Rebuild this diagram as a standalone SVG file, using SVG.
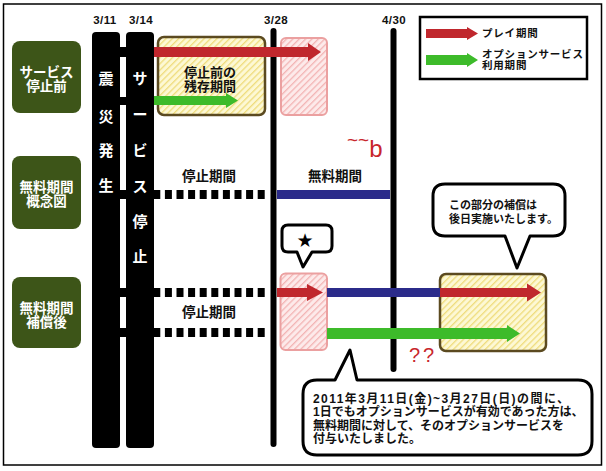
<svg xmlns="http://www.w3.org/2000/svg" width="606" height="471" viewBox="0 0 606 471">
<defs>
<pattern id="hy" patternUnits="userSpaceOnUse" width="4.5" height="4.5" patternTransform="rotate(45)"><rect width="4.5" height="4.5" fill="#fdf8d4"/><rect width="1.3" height="4.5" fill="#efdc7c"/></pattern>
<pattern id="hp" patternUnits="userSpaceOnUse" width="4.5" height="4.5" patternTransform="rotate(45)"><rect width="4.5" height="4.5" fill="#fdeaea"/><rect width="1.3" height="4.5" fill="#f3b4b4"/></pattern>
<style>
.t{font-family:'Liberation Sans','Noto Sans CJK JP',sans-serif;font-weight:bold}
.w{fill:#fff}
.k{fill:#111}
.lbl{fill:#3d5518}
.bar{fill:#000}
.vl{stroke:#000;stroke-width:6;stroke-linecap:round;fill:none}
.dash{stroke:#000;stroke-width:9;stroke-dasharray:7 4.6;fill:none}
.red{fill:#c0272d}
.grn{fill:#3dbb2a}
.blu{fill:#2b2b8a}
.ybox{fill:url(#hy);stroke:#5b4a20;stroke-width:2.5}
.pbox{fill:url(#hp);stroke:#eba0a0;stroke-width:2}
.bub{fill:#fff;stroke:#000;stroke-width:3;stroke-linejoin:round}
.rt{font-family:'Liberation Sans',sans-serif;fill:#c8262c}
</style>
</defs>
<rect x="0" y="0" width="606" height="471" fill="#fff"/>
<rect x="3.5" y="4" width="598" height="461" fill="#fff" stroke="#000" stroke-width="1.5"/>

<g id="dates" class="t k" font-size="11.5" text-anchor="middle" letter-spacing="0.4">
<text x="105" y="24">3/11</text>
<text x="141" y="24">3/14</text>
<text x="276" y="24">3/28</text>
<text x="394" y="24">4/30</text>
</g>

<g id="label-before">
<rect class="lbl" x="12" y="41" width="69" height="72" rx="8"/>
<text class="t w" font-size="13.5" text-anchor="middle"><tspan x="46.5" y="76.5">サービス</tspan><tspan x="46.5" y="90.5">停止前</tspan></text>
</g>
<g id="label-concept">
<rect class="lbl" x="12" y="156" width="69" height="73" rx="8"/>
<text class="t w" font-size="13.5" text-anchor="middle"><tspan x="46.5" y="191.5">無料期間</tspan><tspan x="46.5" y="205.5">概念図</tspan></text>
</g>
<g id="label-after">
<rect class="lbl" x="12" y="277" width="69" height="71" rx="8"/>
<text class="t w" font-size="13.5" text-anchor="middle"><tspan x="46.5" y="312.5">無料期間</tspan><tspan x="46.5" y="326.5">補償後</tspan></text>
</g>

<g id="timeline-lines">
<line class="vl" x1="273.5" y1="31" x2="273.5" y2="444"/>
<line class="vl" x1="393.5" y1="31" x2="393.5" y2="369"/>
</g>

<g id="bar-quake">
<rect class="bar" x="92" y="32" width="28" height="416" rx="4"/>
<text class="t w" font-size="15" text-anchor="middle"><tspan x="106" y="84">震</tspan><tspan x="106" y="122">災</tspan><tspan x="106" y="156">発</tspan><tspan x="106" y="191">生</tspan></text>
</g>
<g id="bar-stop">
<rect class="bar" x="126" y="32" width="28" height="416" rx="4"/>
<text class="t w" font-size="15" text-anchor="middle"><tspan x="140" y="84">サ</tspan><tspan x="140" y="120">ー</tspan><tspan x="140" y="156">ビ</tspan><tspan x="140" y="192">ス</tspan><tspan x="140" y="227">停</tspan><tspan x="140" y="262">止</tspan></text>
</g>

<g id="box-remaining">
<rect class="ybox" x="158" y="37" width="107" height="78" rx="6"/>
<text class="t k" font-size="13" text-anchor="middle"><tspan x="210" y="77">停止前の</tspan><tspan x="210" y="91">残存期間</tspan></text>
</g>
<g id="box-pink-top"><rect class="pbox" x="281" y="38" width="46" height="77" rx="5"/></g>
<g id="box-pink-bottom"><rect class="pbox" x="280.5" y="273.5" width="46.5" height="76.5" rx="5"/></g>
<g id="box-later"><rect class="ybox" x="440" y="274" width="106" height="77" rx="6"/></g>

<g id="connectors">
<rect class="bar" x="119" y="47" width="8" height="10"/>
<rect class="bar" x="119" y="97" width="8" height="8"/>
<rect class="bar" x="119" y="190" width="8" height="9"/>
<rect class="bar" x="119" y="288" width="8" height="9"/>
<rect class="bar" x="119" y="328" width="8" height="9"/>
<line class="dash" x1="153.3" y1="194.5" x2="265" y2="194.5"/>
<line class="dash" x1="153.3" y1="292.5" x2="265" y2="292.5"/>
<line class="dash" x1="153.3" y1="332.5" x2="265" y2="332.5"/>
<path class="red" d="M154 47H308V43L321 52L308 61V57H154Z"/>
<path class="grn" d="M154 96H226V93L238 100.5L226 108V105H154Z"/>
<rect class="blu" x="277" y="190" width="113" height="9"/>
<path class="red" d="M277 288H307V284L323 292.5L307 301V297H277Z"/>
<rect class="blu" x="327" y="288" width="113" height="9"/>
<path class="red" d="M440 288H527V283.5L541 292.5L527 301.5V297H440Z"/>
<path class="grn" d="M327 328H507V325L520 333.5L507 342V339H327Z"/>
</g>

<g id="period-labels" class="t k" font-size="13.5" text-anchor="middle">
<text x="209" y="181">停止期間</text>
<text x="335" y="181">無料期間</text>
<text x="209" y="317">停止期間</text>
</g>

<g id="legend">
<rect x="420" y="17" width="167" height="62" fill="#fff" stroke="#000" stroke-width="2.5"/>
<path class="red" d="M426 29H467V27L478 33.5L467 40V38H426Z"/>
<path class="grn" d="M426 55H467V53L478 60L467 67V65H426Z"/>
<g class="t k" font-size="10.5" letter-spacing="0.8">
<text x="482" y="37">プレイ期間</text>
<text x="482" y="58">オプションサービス</text>
<text x="482" y="69">利用期間</text>
</g>
</g>

<g id="bubble-later">
<path class="bub" d="M445 184H553Q565 184 565 196V224Q565 236 553 236H530L517 268L505 236H445Q433 236 433 224V196Q433 184 445 184Z"/>
<text class="t k" font-size="11"><tspan x="449" y="209">この部分の補償は</tspan><tspan x="449" y="223">後日実施いたします。</tspan></text>
</g>

<g id="bubble-star">
<path class="bub" stroke-width="2.5" d="M288 225H326Q332 225 332 231V246Q332 252 326 252H312L303 267L297 252H288Q282 252 282 246V231Q282 225 288 225Z"/>
<text x="305" y="247" font-family="'DejaVu Sans',sans-serif" font-size="19" text-anchor="middle" fill="#000">★</text>
</g>

<g id="bubble-note">
<path class="bub" d="M317 380H335L350 350L357 380H578Q592 380 592 394V441Q592 455 578 455H317Q303 455 303 441V394Q303 380 317 380Z"/>
<text class="t k" font-size="12">
<tspan x="313" y="402.5" textLength="256" lengthAdjust="spacing">2011年3月11日(金)~3月27日(日)の間に、</tspan>
<tspan x="313" y="416">1日でもオプションサービスが有効であった方は、</tspan>
<tspan x="313" y="429.5">無料期間に対して、そのオプションサービスを</tspan>
<tspan x="313" y="443">付与いたしました。</tspan>
</text>
</g>

<g id="marks">
<text class="rt" x="347" y="157" font-size="24"><tspan font-size="19" dy="-11">~~</tspan><tspan dy="11">b</tspan></text>
<text class="rt" x="409" y="362" font-size="20" letter-spacing="3">??</text>
</g>
</svg>
